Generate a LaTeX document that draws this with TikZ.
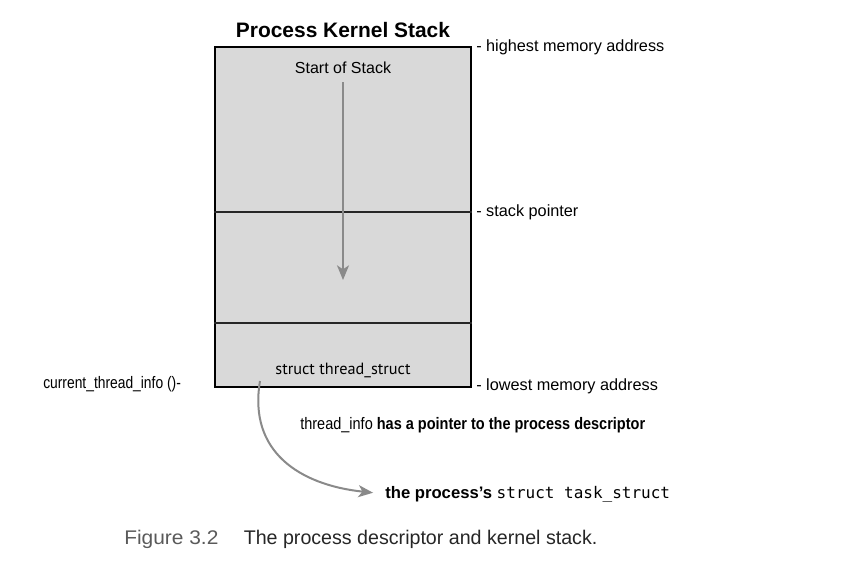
\documentclass[tikz,border=0pt]{standalone}
\usepackage{fontspec}
\setmainfont{Liberation Sans}
\setmonofont{DejaVu Sans Mono}
\newfontfamily\myriad{PT Sans}
\usetikzlibrary{arrows.meta}

\definecolor{stackgray}{HTML}{D9D9D9}
\definecolor{arrowgray}{HTML}{8A8A8A}
\definecolor{capgray}{HTML}{5A5A5A}

\tikzset{
    note/.style={anchor=west, inner sep=0pt, font=\fontsize{12.2}{14}\selectfont},
    slim/.style={anchor=west, inner sep=0pt, font=\fontsize{12.5}{14}\selectfont},
    divider/.style={draw=black!85, line width=0.8pt},
    grayarrow/.style={draw=arrowgray, line width=1.5pt, -{Stealth[length=11pt, width=9pt, inset=3pt]}}
}

\newcommand{\narrow}[2][0.86]{\scalebox{#1}[1]{#2}}

\begin{document}
\begin{tikzpicture}[x=0.75pt, y=-0.75pt]
    \useasboundingbox (0,0) rectangle (854,579);

    \node[draw, line width=1.6pt, fill=stackgray, minimum width=192pt, minimum height=255pt, inner sep=0pt] (stack) at (343,217) {};
    \node[font=\bfseries\fontsize{15.7}{18}\selectfont] (title) at (343,30) {Process Kernel Stack};

    \coordinate (spL) at (stack.west |- 0,212);
    \coordinate (spR) at (stack.east |- 0,212);
    \coordinate (tiL) at (stack.west |- 0,323);
    \coordinate (tiR) at (stack.east |- 0,323);
    \draw[divider] (spL) -- (spR);
    \draw[divider] (tiL) -- (tiR);

    \node[inner sep=1pt, font=\fontsize{12}{14}\selectfont] (start) at (343,68) {Start of Stack};
    \node[inner sep=1pt, font=\myriad\fontsize{12.2}{14}\selectfont] (thread) at (343,370) {struct thread\_struct};
    \coordinate (grow) at (343,280);
    \draw[grayarrow] (343,82) -- (grow);

    \node[note] (high) at (476,47) {- highest memory address};
    \node[note] (sp) at (476,212) {- stack pointer};
    \node[note] (low) at (476,386) {- lowest memory address};
    \node[slim] (cti) at (43,384) {\narrow[0.83]{current\_thread\_info ()-}};
    \node[slim] (ptr) at (300,425) {\narrow[0.87]{thread\_info \textbf{has a pointer to the process descriptor}}};
    \node[slim] (task) at (385,494) {\textbf{the process’s} \texttt{\fontsize{12}{14}\selectfont struct task\_struct}};

    \coordinate (from) at (260,381);
    \draw[grayarrow, shorten >=9pt] (from) .. controls (248,452) and (300,485) .. (task.west);

    \node[anchor=west, inner sep=0pt, font=\fontsize{14.8}{17}\selectfont] (caption) at (124,539) {\textcolor{capgray}{\scalebox{1.06}[1]{Figure 3.2}}\hspace{19pt}\textcolor{black!85}{\scalebox{0.995}[1]{The process descriptor and kernel stack.}}};
\end{tikzpicture}
\end{document}
